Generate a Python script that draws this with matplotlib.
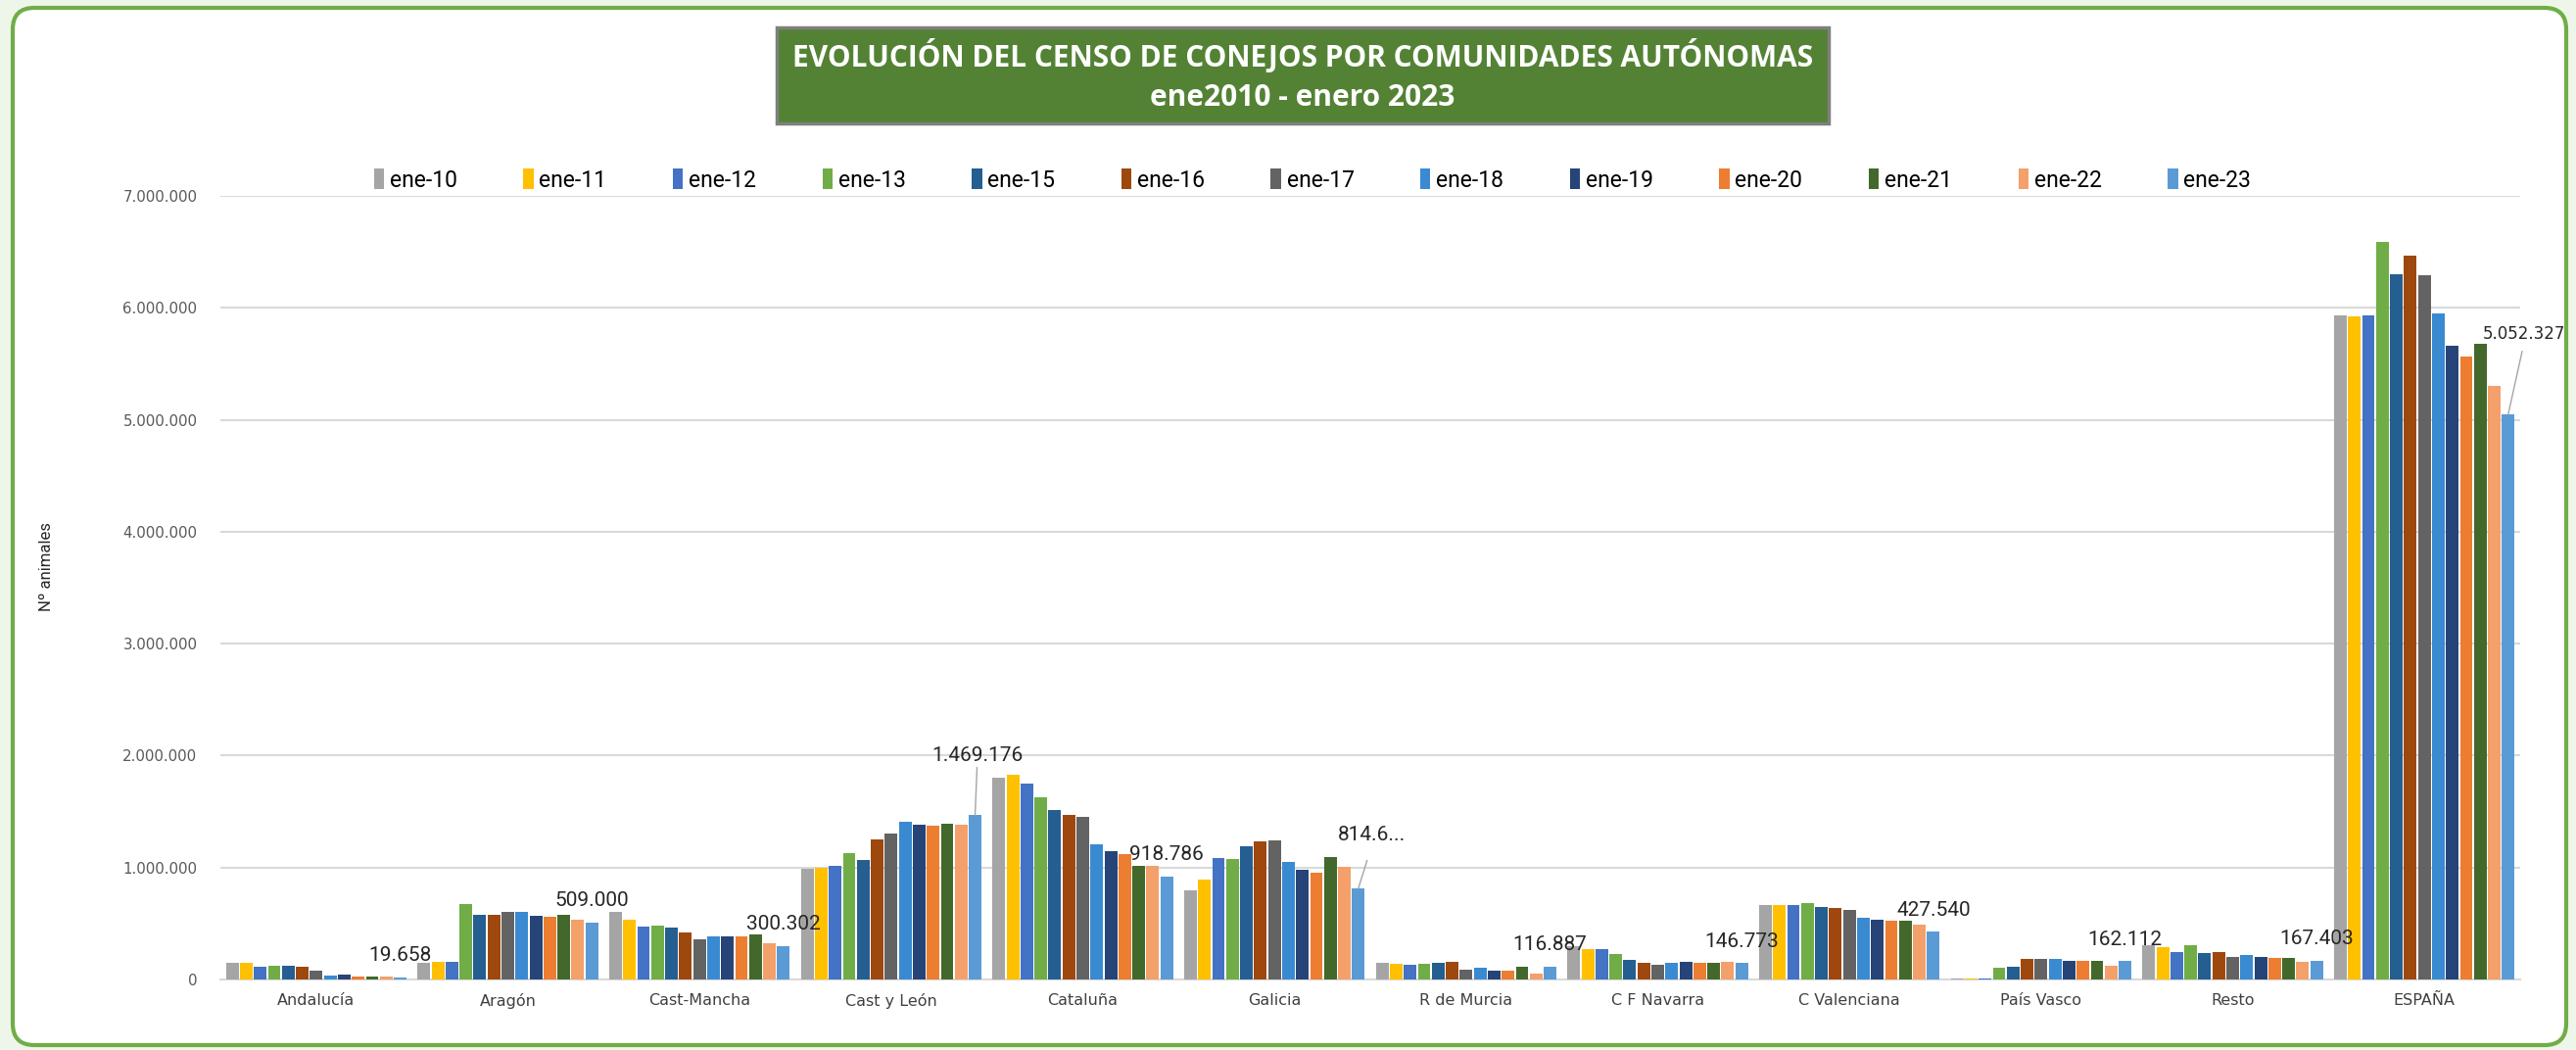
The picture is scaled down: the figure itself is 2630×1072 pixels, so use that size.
import matplotlib
matplotlib.use('Agg')
import matplotlib.pyplot as plt
from matplotlib import font_manager
from matplotlib.patches import FancyBboxPatch, Rectangle, Patch
from matplotlib.ticker import FuncFormatter, MultipleLocator
import numpy as np

# ---------------- data ----------------
categories = ["Andalucía", "Aragón", "Cast-Mancha", "Cast y León", "Cataluña", "Galicia",
              "R de Murcia", "C F Navarra", "C Valenciana", "País Vasco", "Resto", "ESPAÑA"]
series_names = ["ene-10", "ene-11", "ene-12", "ene-13", "ene-15", "ene-16", "ene-17",
                "ene-18", "ene-19", "ene-20", "ene-21", "ene-22", "ene-23"]

ene10 = [146000, 146000, 606000, 985000, 1805000, 799000, 152000, 300000, 662000, 8000, 310000, 5934000]
ene11 = [146000, 155000, 536000, 994000, 1831000, 895000, 143000, 274000, 662000, 8000, 292000, 5926000]
ene12 = [111000, 155000, 475000, 1017000, 1752000, 1087000, 134000, 274000, 662000, 8000, 248000, 5934000]
ene13 = [120000, 676000, 484000, 1131000, 1630000, 1079000, 140000, 230000, 685000, 108000, 309000, 6588000]
ene15 = [120000, 580000, 466000, 1070000, 1516000, 1192000, 152000, 178000, 650000, 117000, 239000, 6300000]
ene16 = [111000, 580000, 423000, 1254000, 1472000, 1236000, 160000, 152000, 641000, 187000, 248000, 6465000]
ene17 = [76000, 606000, 362000, 1306000, 1455000, 1245000, 90000, 134000, 624000, 187000, 204000, 6291000]
ene18 = [38000, 603000, 388000, 1408000, 1207000, 1050000, 105000, 152000, 551000, 184000, 219000, 5948000]
ene19 = [41000, 566000, 388000, 1385000, 1149000, 982000, 82000, 160000, 536000, 169000, 204000, 5660000]
ene20 = [29000, 557000, 388000, 1376000, 1122000, 956000, 82000, 152000, 528000, 169000, 195000, 5564000]
ene21 = [29000, 580000, 405000, 1394000, 1017000, 1096000, 117000, 152000, 528000, 169000, 195000, 5679000]
ene22 = [29000, 536000, 327000, 1385000, 1017000, 1009000, 55000, 160000, 493000, 125000, 160000, 5300000]
ene23 = [19658, 509000, 300302, 1469176, 918786, 814690, 116887, 146773, 427540, 162112, 167403, 5052327]

all_series = [ene10, ene11, ene12, ene13, ene15, ene16, ene17, ene18, ene19, ene20, ene21, ene22, ene23]

colors = ["#A5A5A5", "#FFC000", "#4472C4", "#70AD47", "#255E91", "#9E480E", "#636363",
          "#3A8AD2", "#264478", "#ED7D31", "#43682B", "#F4A06A", "#5B9BD5"]

title_line1 = "EVOLUCIÓN DEL CENSO DE CONEJOS POR COMUNIDADES AUTÓNOMAS"
title_line2 = "ene2010 - enero 2023"
ylabel = "Nº animales"

# ---------------- fonts ----------------
names = {f.name for f in font_manager.fontManager.ttflist}
NARROW = 'Liberation Sans Narrow' if 'Liberation Sans Narrow' in names else 'Roboto'
TITLEF = 'Open Sans' if 'Open Sans' in names else 'DejaVu Sans'


def thousands(v, pos=None):
    return f"{int(round(v)):,}".replace(",", ".")


W, H = 2630, 1072
fig = plt.figure(figsize=(W / 100, H / 100), dpi=100)
fig.patch.set_facecolor('#EEF6EA')

# outer rounded white frame
frame = FancyBboxPatch((0.13, 0.05), 26.07, 10.59, boxstyle="round,pad=0,rounding_size=0.22",
                       transform=fig.dpi_scale_trans, facecolor='white', edgecolor='#70AD47',
                       linewidth=3.0, zorder=0)
fig.add_artist(frame)

# title box
tbox = Rectangle((7.93, 9.46), 10.74, 0.98, transform=fig.dpi_scale_trans,
                 facecolor='#548235', edgecolor='#7F7F7F', linewidth=2.5, zorder=1)
fig.add_artist(tbox)
fig.text(1330 / W, 1 - 57 / H, title_line1, ha='center', va='center', color='white',
         fontsize=21.5, fontweight='bold', family=TITLEF, zorder=2)
fig.text(1330 / W, 1 - 100 / H, title_line2, ha='center', va='center', color='white',
         fontsize=21.5, fontweight='bold', family=TITLEF, zorder=2)

# axes
ax = fig.add_axes([225 / W, 72 / H, 2348 / W, 800 / H])
ax.set_facecolor('none')
x = np.arange(len(categories))
n = len(all_series)
slot = 0.073
bw = 0.066
for i, (vals, c, name) in enumerate(zip(all_series, colors, series_names)):
    ax.bar(x + (i - (n - 1) / 2) * slot, vals, width=bw, color=c, label=name, zorder=3)

ax.set_xlim(-0.5, len(categories) - 0.5)
ax.set_ylim(0, 7000000)
ax.yaxis.set_major_locator(MultipleLocator(1000000))
ax.yaxis.set_major_formatter(FuncFormatter(thousands))
ax.set_xticks(x)
ax.set_xticklabels(categories)
ax.yaxis.grid(True, color='#D9D9D9', linewidth=1.5)
ax.set_axisbelow(True)
for s in ['left', 'right', 'top']:
    ax.spines[s].set_visible(False)
ax.spines['bottom'].set_color('#D9D9D9')
ax.spines['bottom'].set_linewidth(1.5)
ax.tick_params(axis='y', length=0, pad=17, labelsize=10.8, labelcolor='#595959')
ax.tick_params(axis='x', length=0, pad=10, labelsize=11.5, labelcolor='#404040')

# data labels for the last series
label_texts = [thousands(v) for v in ene23]
label_texts[5] = thousands(ene23[5])[:5] + "..."
last_x = x + (n - 1 - (n - 1) / 2) * slot
special = {3: (1.5, 37, 0), 5: (10, 32, 10), 11: (11.5, 52, 4)}
for k, (xx, v, t) in enumerate(zip(last_x, ene23, label_texts)):
    if k in special:
        dx, dy, sA = special[k]
        fam = 'DejaVu Sans' if k == 11 else NARROW
        fs = 12 if k == 11 else 15
        ax.annotate(t, xy=(xx, v), xytext=(dx, dy), textcoords='offset points',
                    ha='center', va='bottom', fontsize=fs, family=fam, color='#262626',
                    annotation_clip=False, zorder=5,
                    arrowprops=dict(arrowstyle='-', color='#A5A5A5', lw=1.0,
                                    shrinkA=sA, shrinkB=0, relpos=(0.5, 0)))
    else:
        ax.annotate(t, xy=(xx, v), xytext=(0, 9), textcoords='offset points',
                    ha='center', va='bottom', fontsize=15, family=NARROW, color='#262626',
                    annotation_clip=False, zorder=5)

# legend
handles = [Patch(facecolor=c, edgecolor='none') for c in colors]
fig.legend(handles, series_names, loc='center', bbox_to_anchor=(1340 / W, 1 - 184 / H),
           ncol=n, frameon=False, handlelength=0.45, handleheight=1.0, handletextpad=0.25,
           columnspacing=2.95, prop={'family': NARROW, 'size': 16.5})

fig.text(47 / W, 1 - 579 / H, ylabel, rotation=90, ha='center', va='center',
         family=NARROW, fontsize=12, color='#262626')

fig.savefig('out.png', dpi=100, facecolor=fig.get_facecolor())
